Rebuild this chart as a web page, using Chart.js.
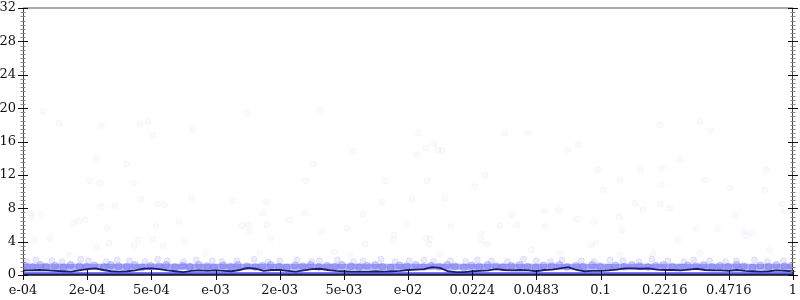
<!DOCTYPE html>
<html><head><meta charset="utf-8">
<script src="https://cdn.jsdelivr.net/npm/chart.js@4"></script>
<style>html,body{margin:0;padding:0;background:#fff;overflow:hidden}</style>
</head><body><canvas id="c" width="800" height="300" style="display:block;width:800px;height:300px"></canvas>
<script>
const xLabels = ['e-04','2e-04','5e-04','e-03','2e-03','5e-03','e-02','0.0224','0.0483','0.1','0.2216','0.4716','1'];
const yTickLabels = ['0','4','8','12','16','20','24','28','32'];
const yMax = 32;
const yStep = 4;

// running median line (97 samples, evenly spaced over the 12 label intervals)
const lineY = [0.55,0.55,0.6,0.55,0.5,0.45,0.4,0.55,0.7,0.8,0.6,0.45,0.4,0.45,0.55,0.75,0.8,0.7,0.55,0.45,
0.35,0.5,0.55,0.5,0.55,0.5,0.45,0.6,0.85,0.75,0.5,0.6,0.6,0.5,0.4,0.55,0.7,0.75,0.6,0.5,
0.45,0.4,0.4,0.4,0.45,0.4,0.45,0.5,0.6,0.65,0.7,0.95,0.85,0.45,0.35,0.35,0.45,0.5,0.55,0.7,
0.6,0.55,0.6,0.55,0.45,0.6,0.65,0.8,0.95,0.6,0.45,0.5,0.5,0.55,0.65,0.8,0.8,0.75,0.8,0.65,
0.6,0.6,0.55,0.65,0.75,0.6,0.55,0.55,0.5,0.6,0.5,0.45,0.4,0.45,0.55,0.5,0.45];

// scattered faint points
const scatX = [0.31,0.56,1.22,1.82,1.95,2.03,2.65,4.63,5.14,4.53,4.41,6.16,6.40,6.28,6.47,6.53,6.14,5.64,6.30,7.20,
7.04,6.06,6.58,0.14,0.11,0.28,0.17,0.42,0.79,0.87,0.97,1.04,1.14,1.20,1.22,1.15,1.31,1.43,1.34,1.61,
1.73,1.73,1.84,1.79,2.03,2.07,2.10,2.18,2.21,2.43,2.52,2.63,3.26,3.41,3.51,3.52,3.80,4.15,3.86,4.39,
3.74,3.79,4.66,4.85,5.05,5.30,5.59,5.77,5.78,5.33,5.98,6.34,6.28,6.33,6.67,7.14,7.15,7.23,7.43,7.70,
7.62,7.92,8.12,8.13,8.35,8.63,8.85,8.90,8.93,9.29,9.33,9.54,9.93,10.08,9.66,10.49,10.82,11.24,11.36,11.27,
10.21,9.82,9.30,11.83,11.86,10.55,10.71,10.24,9.93,8.49,8.65,7.87,7.51,9.30,9.04,9.62,9.96,9.96,10.63,11.02,
11.10,11.56,11.58,8.96,3.49,0.73,2.84,3.69,6.50,8.37,10.55,11.64,5.10];
const scatY = [19.6,18.2,17.9,18.1,18.4,16.8,17.4,19.8,14.8,13.3,11.3,17.0,15.7,15.2,15.0,14.9,14.4,11.3,11.3,12.0,
10.6,9.1,9.2,7.1,7.4,7.3,4.2,4.4,6.2,6.5,6.6,11.3,14.0,11.0,8.2,3.4,5.6,8.3,3.8,13.3,
11.0,3.5,9.1,4.2,4.3,5.8,8.5,3.5,8.4,6.4,4.0,9.2,8.9,5.9,6.0,5.2,6.0,6.6,4.4,7.4,
7.4,8.8,5.2,2.8,5.6,7.3,8.8,4.2,4.8,3.7,6.1,4.3,4.4,3.7,5.8,4.2,5.0,3.7,5.9,6.0,
7.2,3.0,7.6,5.8,7.8,6.7,3.6,6.4,3.8,7.0,5.4,8.6,8.5,8.0,7.8,5.5,5.5,5.3,5.0,4.7,
4.2,2.6,2.4,8.5,7.6,18.4,17.3,13.8,18.0,15.0,15.6,17.0,17.0,11.4,10.2,12.6,12.8,10.8,11.4,10.4,
7.2,10.2,12.6,12.6,19.4,2.4,2.6,2.6,2.5,2.6,2.7,3.0,2.4];

// row of points just above the band
const rowX = [0.06,0.2,0.45,0.61,0.9,1.02,1.3,1.47,1.66,1.9,2.1,2.25,2.5,2.7,2.95,3.1,3.33,3.6,3.82,4.0,
4.27,4.5,4.62,4.9,5.15,5.3,5.58,5.8,6.02,6.25,6.4,6.66,6.9,7.08,7.3,7.55,7.8,8.0,8.22,8.4,
8.7,8.9,9.15,9.35,9.6,9.8,10.05,10.3,10.45,10.7,10.95,11.12,11.4,11.6,11.85];
const rowY = [1.6,1.8,1.7,1.6,1.9,1.7,1.6,1.8,1.7,1.6,1.9,1.7,1.6,1.8,1.7,1.6,1.7,1.9,1.6,1.7,
1.8,1.6,1.7,1.8,1.6,1.7,1.9,1.6,1.7,1.8,1.6,1.7,1.6,1.8,1.7,1.6,1.9,1.7,1.6,1.8,
1.7,1.6,1.8,1.7,1.6,1.9,1.7,1.6,1.8,1.7,1.6,1.7,1.8,1.6,1.7];

// dense band points
const bandX = [0.03,0.15,0.27,0.36,0.5,0.63,0.74,0.88,0.99,1.11,1.26,1.37,1.49,1.62,1.74,1.85,1.99,2.12,2.23,2.37,
2.49,2.6,2.74,2.87,2.98,3.12,3.24,3.35,3.49,3.62,3.73,3.86,3.99,4.11,4.24,4.36,4.48,4.61,4.74,4.86,
4.97,5.11,5.24,5.36,5.49,5.6,5.73,5.87,5.98,6.12,6.24,6.36,6.49,6.61,6.73,6.87,6.99,7.11,7.24,7.37,
7.48,7.61,7.74,7.86,7.99,8.11,8.24,8.36,8.48,8.62,8.73,8.87,8.99,9.12,9.23,9.37,9.49,9.61,9.74,9.86,
9.98,10.12,10.24,10.36,10.49,10.61,10.74,10.86,10.99,11.12,11.23,11.37,11.49,11.62,11.74,11.87,11.98];
const bandY = [1.1,0.95,1.2,1.0,1.1,0.9,1.2,1.05,1.0,1.15,0.95,1.2,1.05,1.0,1.2,0.9,1.1,1.05,1.2,0.95,
1.1,1.0,1.2,1.05,0.9,1.15,1.0,1.2,1.05,0.95,1.1,1.2,1.0,0.9,1.15,1.05,1.2,0.95,1.1,1.0,
1.2,1.05,0.95,1.1,1.2,1.0,0.9,1.15,1.05,1.2,0.95,1.1,1.0,1.2,1.05,0.9,1.15,1.0,1.2,1.05,
0.95,1.1,1.2,1.0,0.9,1.15,1.05,1.2,0.95,1.1,1.0,1.2,1.05,0.9,1.15,1.0,1.2,1.05,0.95,1.1,
1.2,1.0,0.9,1.15,1.05,1.2,0.95,1.1,1.0,1.2,1.05,0.9,1.15,1.0,1.2,1.05,1.1];
const bandLevel = 1.0;
const floorLevel = 0.15;

const toPts = (xs, ys) => xs.map((x, i) => ({x: x, y: ys[i]}));
const lineData = lineY.map((v, i) => ({x: i * 12 / (lineY.length - 1), y: v}));
const span = [0, xLabels.length - 1];

const decor = {
  id: 'decor',
  afterDatasetsDraw(chart) {
    const {ctx, chartArea: {left, right, top, bottom}, scales: {x, y}} = chart;
    ctx.save();
    ctx.strokeStyle = '#aaaaaa'; ctx.lineWidth = 2;
    ctx.beginPath(); ctx.moveTo(left, top); ctx.lineTo(right, top); ctx.stroke();
    ctx.strokeStyle = '#444'; ctx.lineWidth = 1;
    ctx.beginPath();
    ctx.moveTo(Math.round(left) + 0.5, top); ctx.lineTo(Math.round(left) + 0.5, bottom);
    ctx.moveTo(Math.round(right) - 0.5, top); ctx.lineTo(Math.round(right) - 0.5, bottom);
    ctx.stroke();
    for (let v = 0; v <= yMax; v += 0.5) {
      const py = Math.round(y.getPixelForValue(v)) + 0.5;
      const major = v % yStep === 0;
      const len = major ? 5 : 2.5;
      ctx.strokeStyle = major ? '#111' : '#888';
      ctx.beginPath();
      ctx.moveTo(left - len, py); ctx.lineTo(left + len, py);
      ctx.moveTo(right - len, py); ctx.lineTo(right + len, py);
      ctx.stroke();
    }
    ctx.strokeStyle = '#111'; ctx.lineWidth = 1.5;
    ctx.beginPath(); ctx.moveTo(left, bottom); ctx.lineTo(right, bottom); ctx.stroke();
    ctx.lineWidth = 1;
    for (let i = 0; i < xLabels.length; i++) {
      const px = Math.round(x.getPixelForValue(i)) + 0.5;
      ctx.beginPath(); ctx.moveTo(px, bottom - 5); ctx.lineTo(px, bottom + 5); ctx.stroke();
    }
    // tick labels
    ctx.fillStyle = '#111';
    ctx.font = '13px "DejaVu Serif"';
    ctx.textAlign = 'right'; ctx.textBaseline = 'middle';
    yTickLabels.forEach((t, i) => {
      ctx.fillText(t, left - 7, y.getPixelForValue(i * yStep));
    });
    ctx.textAlign = 'center'; ctx.textBaseline = 'top';
    xLabels.forEach((t, i) => {
      ctx.fillText(t, x.getPixelForValue(i), bottom + 9);
    });
    ctx.restore();
  }
};

new Chart(document.getElementById('c'), {
  type: 'scatter',
  data: {
    datasets: [
      {type: 'line', data: span.map(v => ({x: v, y: bandLevel})), borderColor: 'rgba(100,100,238,0.55)', borderWidth: 6, pointRadius: 0, order: 5},
      {type: 'line', data: span.map(v => ({x: v, y: floorLevel})), borderColor: 'rgba(65,65,228,0.9)', borderWidth: 3, pointRadius: 0, order: 4},
      {data: toPts(scatX, scatY), pointRadius: 3, backgroundColor: 'rgba(120,120,235,0.035)', borderColor: 'rgba(120,120,235,0.05)', borderWidth: 1, order: 6},
      {data: toPts(rowX, rowY), pointRadius: 3, backgroundColor: 'rgba(110,110,238,0.14)', borderColor: 'rgba(110,110,238,0.16)', borderWidth: 1, order: 6},
      {data: toPts(bandX, bandY), pointRadius: 3.5, backgroundColor: 'rgba(100,100,238,0.28)', borderColor: 'rgba(100,100,238,0.3)', borderWidth: 1, order: 5},
      {type: 'line', data: lineData, borderColor: '#1c1c78', borderWidth: 1.8, pointRadius: 0, tension: 0, order: 1}
    ]
  },
  options: {
    responsive: false,
    animation: false,
    events: [],
    layout: {padding: {top: 8, right: 7, left: 23, bottom: 25}},
    plugins: {legend: {display: false}, tooltip: {enabled: false}},
    scales: {
      x: {
        type: 'linear', display: false, min: 0, max: xLabels.length - 1,
        ticks: {stepSize: 1}
      },
      y: {
        display: false, min: 0, max: yMax,
        ticks: {stepSize: yStep}
      }
    }
  },
  plugins: [decor]
});
</script></body></html>
